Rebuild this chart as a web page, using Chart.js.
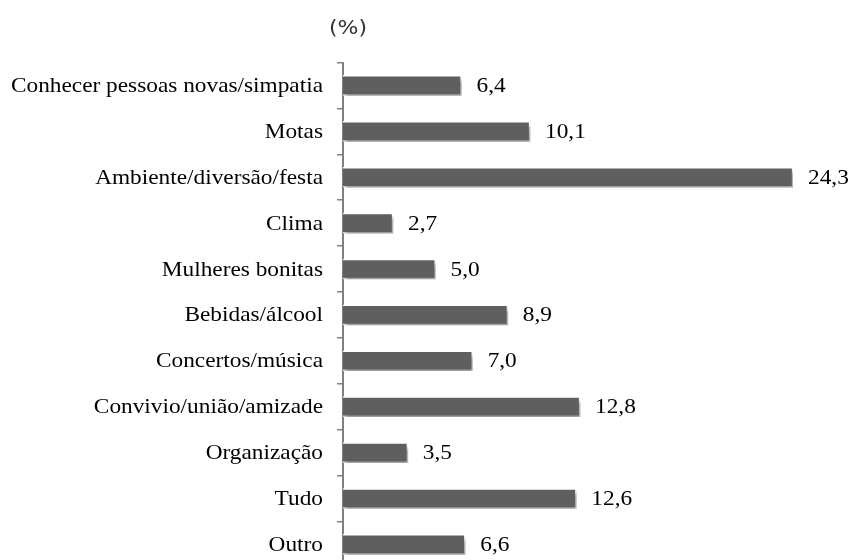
<!DOCTYPE html>
<html>
<head>
<meta charset="utf-8">
<script src="https://cdn.jsdelivr.net/npm/chart.js@4"></script>
<style>
  html, body { margin: 0; padding: 0; background: #fff; overflow: hidden; }
</style>
</head>
<body>
<canvas id="grafico" width="850" height="570"></canvas>
<script>
// categorias e valores (%)
const categorias = [
  'Conhecer pessoas novas/simpatia',
  'Motas',
  'Ambiente/diversão/festa',
  'Clima',
  'Mulheres bonitas',
  'Bebidas/álcool',
  'Concertos/música',
  'Convivio/união/amizade',
  'Organização',
  'Tudo',
  'Outro'
];
const valores = [6.4, 10.1, 24.3, 2.7, 5.0, 8.9, 7.0, 12.8, 3.5, 12.6, 6.6];
const unidade = '(%)';

const SERIF = '21px "Liberation Serif", "Times New Roman", serif';
const ESTICA = 1.11; // texto ligeiramente largo

const formatar = v => v.toFixed(1).replace('.', ',');

// escreve texto esticado na horizontal
function texto(ctx, s, x, y, align) {
  ctx.save();
  ctx.translate(x, y);
  ctx.scale(ESTICA, 1);
  ctx.textAlign = align;
  ctx.fillText(s, 0, 0);
  ctx.restore();
}

// sombra por baixo das barras
const sombraBarras = {
  id: 'sombraBarras',
  beforeDatasetsDraw(chart) {
    const ctx = chart.ctx;
    ctx.save();
    ctx.shadowColor = 'rgba(0,0,0,0.4)';
    ctx.shadowBlur = 4;
    ctx.shadowOffsetX = 2;
    ctx.shadowOffsetY = 4;
  },
  afterDatasetsDraw(chart) {
    chart.ctx.restore();
  }
};

// categorias, valores à direita das barras e título do eixo
const rotulos = {
  id: 'rotulos',
  afterDraw(chart) {
    const ctx = chart.ctx;
    const meta = chart.getDatasetMeta(0);
    const yScale = chart.scales.y;
    ctx.save();
    ctx.fillStyle = '#000';
    ctx.font = SERIF;
    ctx.textBaseline = 'middle';
    categorias.forEach((c, i) => {
      texto(ctx, c, 323, yScale.getPixelForValue(i) + 1, 'right');
    });
    meta.data.forEach((bar, i) => {
      texto(ctx, formatar(valores[i]), bar.x + 15, bar.y + 1, 'left');
    });
    ctx.fillStyle = '#333';
    ctx.font = '20px "DejaVu Sans", sans-serif';
    ctx.save();
    ctx.translate(348, 29);
    ctx.scale(1.1, 1);
    ctx.textAlign = 'center';
    ctx.fillText(unidade, 0, 0);
    ctx.restore();
    ctx.restore();
  }
};

new Chart(document.getElementById('grafico'), {
  type: 'bar',
  data: {
    labels: categorias,
    datasets: [{
      data: valores,
      backgroundColor: '#5f5f5f',
      borderColor: '#ffffff',
      borderWidth: 1.5,
      barThickness: 20
    }]
  },
  options: {
    indexAxis: 'y',
    responsive: false,
    animation: false,
    layout: { padding: { top: 62.5, right: 57, bottom: 2.7, left: 0 } },
    plugins: {
      legend: { display: false },
      tooltip: { enabled: false }
    },
    scales: {
      x: {
        display: false,
        min: 0,
        max: 24.3
      },
      y: {
        afterFit(scale) { scale.width = 343; },
        grid: {
          offset: true,
          drawOnChartArea: false,
          tickLength: 6,
          color: '#808080',
          lineWidth: 1.5
        },
        border: { color: '#808080', width: 2 },
        ticks: { display: false }
      }
    }
  },
  plugins: [sombraBarras, rotulos]
});
</script>
</body>
</html>
